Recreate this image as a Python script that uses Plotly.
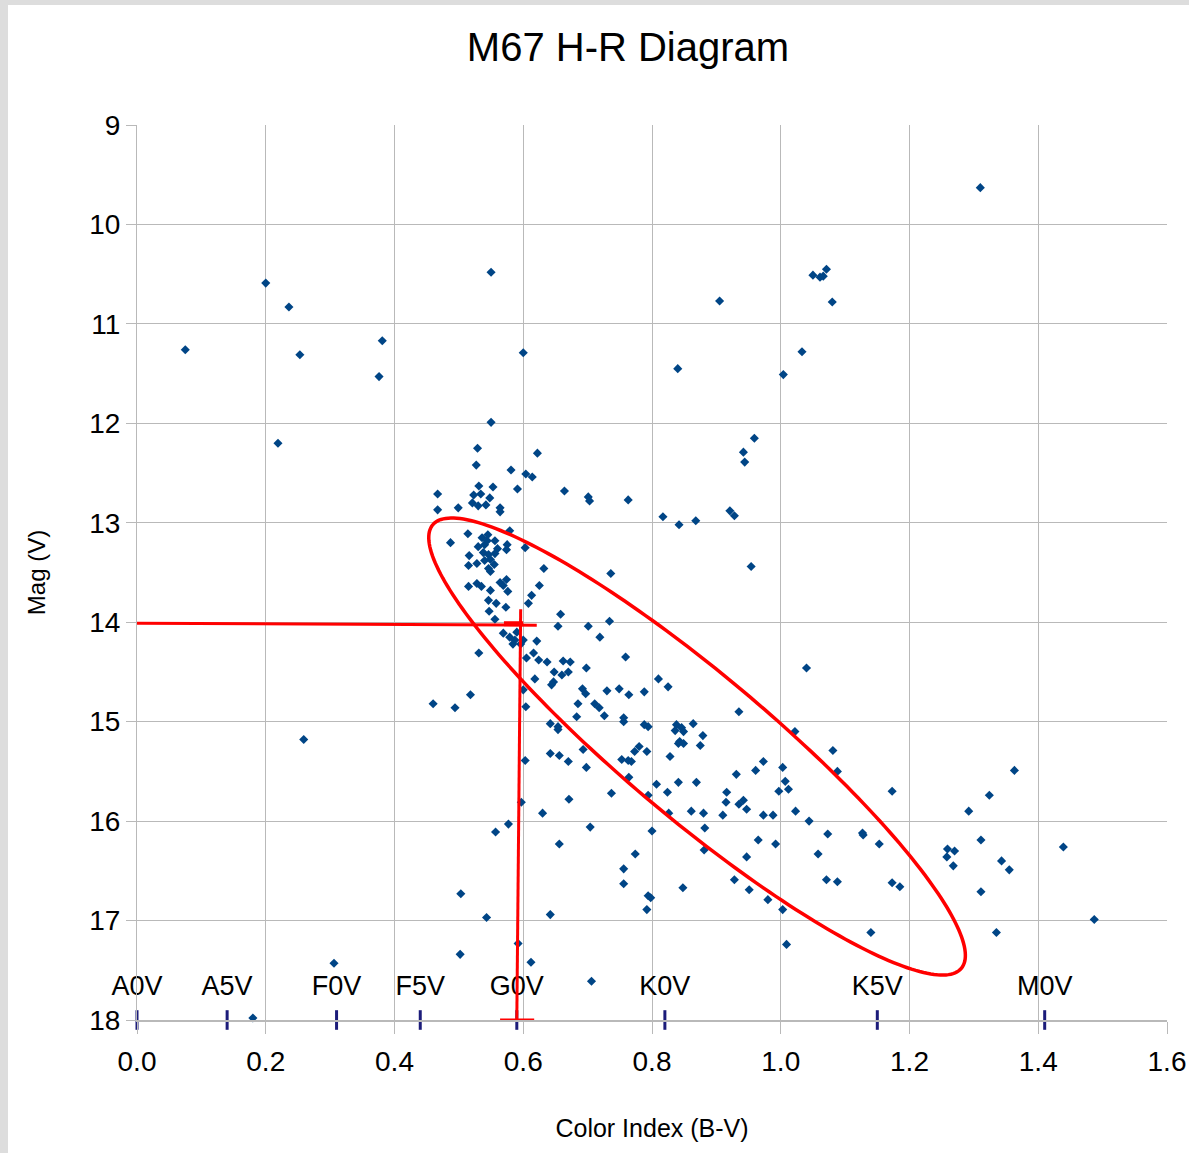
import numpy as np
import plotly.graph_objects as go

# ---------------- data ----------------
color_index = [
    1.310, 0.200, 0.236, 0.075, 0.253, 0.381, 0.376, 0.219, 0.550, 0.600,
    0.550, 0.905, 1.050, 1.061, 1.071, 1.066, 1.080, 0.840, 1.033, 1.004,
    0.959, 0.942, 0.944, 0.622, 0.581, 0.604, 0.614, 0.591, 0.664, 0.701,
    0.763, 0.529, 0.527, 0.531, 0.553, 0.467, 0.523, 0.534, 0.548, 0.521,
    0.530, 0.542, 0.467, 0.499, 0.564, 0.564, 0.703, 0.514, 0.579, 0.487,
    0.536, 0.544, 0.556, 0.575, 0.603, 0.574, 0.516, 0.538, 0.546, 0.556,
    0.549, 0.555, 0.540, 0.528, 0.515, 0.546, 0.549, 0.632, 0.736, 0.564,
    0.574, 0.569, 0.515, 0.528, 0.535, 0.625, 0.549, 0.576, 0.613, 0.546,
    0.558, 0.608, 0.573, 0.547, 0.556, 0.658, 0.654, 0.701, 0.734, 0.569,
    0.579, 0.587, 0.600, 0.621, 0.719, 0.531, 0.616, 0.605, 0.624, 0.637,
    0.662, 0.673, 0.759, 0.698, 0.648, 0.660, 0.670, 0.618, 0.647, 0.644,
    0.600, 0.692, 0.697, 0.730, 0.749, 0.764, 0.788, 0.460, 0.494, 0.518,
    0.604, 0.685, 0.711, 0.718, 0.683, 0.726, 0.756, 0.756, 0.642, 0.654,
    0.654, 0.788, 0.794, 0.693, 0.642, 0.656, 0.670, 0.603, 0.698, 0.753,
    0.763, 0.768, 0.773, 0.780, 0.792, 0.764, 0.737, 0.794, 0.671, 0.597,
    0.630, 0.704, 0.577, 0.557, 0.656, 0.774, 0.756, 0.756, 0.794, 0.792,
    0.503, 0.543, 0.642, 0.592, 0.502, 0.612, 0.706, 0.306, 0.180, 0.259,
    0.817, 0.842, 0.868, 0.921, 0.928, 0.954, 0.810, 0.825, 1.040, 0.935,
    0.838, 0.846, 0.864, 1.022, 0.836, 0.849, 0.879, 0.843, 0.841, 0.849,
    0.875, 0.828, 1.081, 1.088, 0.807, 0.841, 0.869, 0.931, 0.961, 0.973,
    1.003, 1.007, 1.012, 0.997, 0.824, 0.916, 0.915, 0.935, 0.942, 0.947,
    1.023, 0.826, 0.861, 0.880, 0.910, 0.973, 0.988, 0.800, 0.882, 1.044,
    1.073, 0.965, 0.992, 0.881, 0.947, 1.058, 0.848, 0.928, 0.951, 0.980,
    1.071, 1.088, 0.798, 1.003, 1.009, 1.173, 1.363, 1.324, 1.292, 1.127,
    1.128, 1.153, 1.259, 1.270, 1.258, 1.268, 1.311, 1.343, 1.355, 1.439,
    1.173, 1.185, 1.311, 1.140, 1.335, 1.487, 0.540, 0.530, 0.560, 0.545,
    0.590, 0.596, 0.584,
]
magnitude_v = [
    9.63, 10.59, 10.83, 11.26, 11.31, 11.17, 11.53, 12.20, 10.48, 11.29,
    11.99, 10.77, 10.51, 10.53, 10.45, 10.52, 10.78, 11.45, 11.28, 11.51,
    12.15, 12.29, 12.39, 12.30, 12.47, 12.51, 12.54, 12.66, 12.68, 12.74,
    12.77, 12.25, 12.42, 12.63, 12.64, 12.71, 12.72, 12.71, 12.75, 12.80,
    12.83, 12.82, 12.87, 12.85, 12.85, 12.89, 12.78, 13.11, 13.08, 13.20,
    13.15, 13.18, 13.18, 13.22, 13.25, 13.27, 13.33, 13.30, 13.32, 13.31,
    13.37, 13.42, 13.38, 13.41, 13.43, 13.46, 13.49, 13.46, 13.51, 13.60,
    13.57, 13.63, 13.64, 13.61, 13.64, 13.63, 13.68, 13.69, 13.73, 13.78,
    13.81, 13.81, 13.85, 13.89, 13.97, 13.92, 14.04, 14.04, 13.99, 14.11,
    14.15, 14.18, 14.18, 14.19, 14.15, 14.31, 14.31, 14.36, 14.38, 14.40,
    14.39, 14.40, 14.35, 14.46, 14.50, 14.53, 14.50, 14.57, 14.60, 14.63,
    14.68, 14.67, 14.72, 14.69, 14.67, 14.73, 14.70, 14.82, 14.86, 14.73,
    14.85, 14.82, 14.82, 14.86, 14.95, 14.94, 14.96, 15.00, 15.02, 15.05,
    15.08, 15.03, 15.05, 15.28, 15.32, 15.34, 15.40, 15.39, 15.46, 15.38,
    15.39, 15.40, 15.30, 15.25, 15.30, 15.56, 15.72, 15.74, 15.78, 15.81,
    15.92, 16.06, 16.03, 16.11, 16.23, 16.33, 16.48, 16.63, 16.75, 16.89,
    16.73, 16.97, 16.94, 17.23, 17.34, 17.42, 17.61, 17.43, 17.98, 15.18,
    12.94, 13.02, 12.98, 12.88, 12.93, 13.44, 14.57, 14.65, 14.46, 14.90,
    15.03, 15.06, 15.02, 15.10, 15.09, 15.10, 15.14, 15.20, 15.22, 15.22,
    15.24, 15.35, 15.29, 15.50, 15.63, 15.61, 15.61, 15.53, 15.49, 15.40,
    15.46, 15.60, 15.68, 15.70, 15.71, 15.71, 15.81, 15.83, 15.79, 15.88,
    15.90, 15.92, 15.90, 15.92, 15.94, 15.94, 15.94, 16.10, 16.07, 16.00,
    16.13, 16.19, 16.23, 16.29, 16.36, 16.33, 16.67, 16.59, 16.69, 16.79,
    16.59, 16.61, 16.77, 16.89, 17.24, 15.70, 15.49, 15.74, 15.90, 16.12,
    16.14, 16.23, 16.28, 16.30, 16.36, 16.45, 16.19, 16.40, 16.49, 16.26,
    16.62, 16.66, 16.71, 17.12, 17.12, 16.99, 13.22, 13.24, 13.26, 13.12,
    14.10, 14.22, 14.22,
]

spectral_classes = ["A0V", "A5V", "F0V", "F5V", "G0V", "K0V", "K5V", "M0V"]
spectral_bv = [0.00, 0.14, 0.31, 0.44, 0.59, 0.82, 1.15, 1.41]

# Sun-like reference point marked with red cross-hair (B-V, V)
ref_bv = 0.592
ref_mag = 14.01

# ---------------- figure ----------------
W, H = 1189, 1153
ML, MR, MT, MB = 137, 22, 125, 133
X_RANGE = [0.0, 1.6]
Y_RANGE = [18.0, 9.0]
px_per_x = (W - ML - MR) / (X_RANGE[1] - X_RANGE[0])
px_per_y = (H - MT - MB) / (Y_RANGE[0] - Y_RANGE[1])

FONT = "Liberation Sans, Arial, sans-serif"
RED = "#ff0000"
GRID = "#b9b9b9"

fig = go.Figure()

fig.add_trace(go.Scatter(
    x=color_index, y=magnitude_v, mode="markers",
    marker=dict(symbol="diamond", size=7, color="#004586", line=dict(width=0)),
    hoverinfo="skip", showlegend=False, cliponaxis=False,
))

# spectral class tick marks on the bottom line
fig.add_trace(go.Scatter(
    x=spectral_bv, y=[18.0] * len(spectral_bv), mode="markers",
    marker=dict(symbol="line-ns", size=14, line=dict(width=3, color="#1c1c7a")),
    hoverinfo="skip", showlegend=False, cliponaxis=False,
))
fig.add_trace(go.Scatter(
    x=spectral_bv, y=[17.68] * len(spectral_bv), mode="text",
    text=spectral_classes, textposition="middle center",
    textfont=dict(family=FONT, size=27, color="#000000"),
    hoverinfo="skip", showlegend=False, cliponaxis=False,
))

# ellipse around the main sequence (defined in screen-proportional units)
ell_cx, ell_cy = 0.870, 15.25          # centre in data units
ell_a, ell_b, ell_ang = 345.0, 72.0, 40.0  # semi axes (px) and tilt (deg)
t = np.linspace(0, 2 * np.pi, 241)
th = np.deg2rad(ell_ang)
dx = ell_a * np.cos(t) * np.cos(th) - ell_b * np.sin(t) * np.sin(th)
dy = ell_a * np.cos(t) * np.sin(th) + ell_b * np.sin(t) * np.cos(th)
ex = ell_cx + dx / px_per_x
ey = ell_cy + dy / px_per_y
path = "M " + " L ".join(f"{a:.5f},{b:.5f}" for a, b in zip(ex, ey)) + " Z"

shapes = [
    dict(type="path", path=path, xref="x", yref="y",
         line=dict(color=RED, width=3.5)),
    # horizontal line from the magnitude axis
    dict(type="line", xref="x", yref="y", x0=-0.003, x1=0.621, y0=ref_mag, y1=ref_mag + 0.02,
         line=dict(color=RED, width=3)),
    dict(type="line", xref="x", yref="y", x0=-0.003, x1=-0.003, y0=13.84, y1=14.16,
         line=dict(color=RED, width=3)),
    # vertical line down to the colour axis
    dict(type="line", xref="x", yref="y", x0=ref_bv + 0.004, x1=ref_bv - 0.002, y0=13.87, y1=18.0,
         line=dict(color=RED, width=3)),
    dict(type="line", xref="x", yref="y", x0=0.564, x1=0.617, y0=18.0, y1=18.0,
         line=dict(color=RED, width=3)),
    dict(type="rect", xref="x", yref="y", x0=0.570, x1=0.600, y0=13.99, y1=14.04,
         line=dict(width=0), fillcolor=RED),
    # grey page frame on the left and top
    dict(type="rect", xref="paper", yref="paper", layer="below",
         x0=-ML / (W - ML - MR), x1=(8 - ML) / (W - ML - MR),
         y0=-MB / (H - MT - MB), y1=(H - MB) / (H - MT - MB),
         line=dict(width=0), fillcolor="#dddddd"),
    dict(type="rect", xref="paper", yref="paper", layer="below",
         x0=-ML / (W - ML - MR), x1=(W - ML) / (W - ML - MR),
         y0=(H - MB - 5) / (H - MT - MB), y1=(H - MB) / (H - MT - MB),
         line=dict(width=0), fillcolor="#dddddd"),
]

fig.update_layout(
    width=W, height=H, autosize=False,
    margin=dict(l=ML, r=MR, t=MT, b=MB, pad=0, autoexpand=False),
    paper_bgcolor="#ffffff", plot_bgcolor="#ffffff",
    font=dict(family=FONT, color="#000000"),
    title=dict(text="M67 H-R Diagram", x=628 / W, xanchor="center",
               y=1 - 47 / H, yanchor="middle", yref="container",
               font=dict(family=FONT, size=40, color="#000000")),
    shapes=shapes,
    showlegend=False,
    hovermode=False,
)
fig.update_xaxes(
    range=X_RANGE, dtick=0.2, tick0=0, tickformat=".1f", automargin=False,
    showgrid=True, gridcolor=GRID, gridwidth=1,
    zeroline=False, showline=True, linecolor=GRID, linewidth=2,
    ticks="outside", ticklen=12, tickcolor=GRID, tickwidth=1,
    tickfont=dict(family=FONT, size=28, color="#000000"),
    ticklabelstandoff=3,
    title=dict(text="Color Index (B-V)", standoff=44,
               font=dict(family=FONT, size=25, color="#000000")),
)
fig.update_yaxes(
    range=Y_RANGE, dtick=1, tick0=9, automargin=False,
    showgrid=True, gridcolor=GRID, gridwidth=1,
    zeroline=False, showline=True, linecolor=GRID, linewidth=1,
    ticks="outside", ticklen=10, tickcolor=GRID, tickwidth=1,
    tickfont=dict(family=FONT, size=28, color="#000000"),
    ticklabelstandoff=0,
    title=dict(text="Mag (V)", standoff=36,
               font=dict(family=FONT, size=24, color="#000000")),
)

fig.write_html("out.html", config={"displayModeBar": False, "responsive": False})
